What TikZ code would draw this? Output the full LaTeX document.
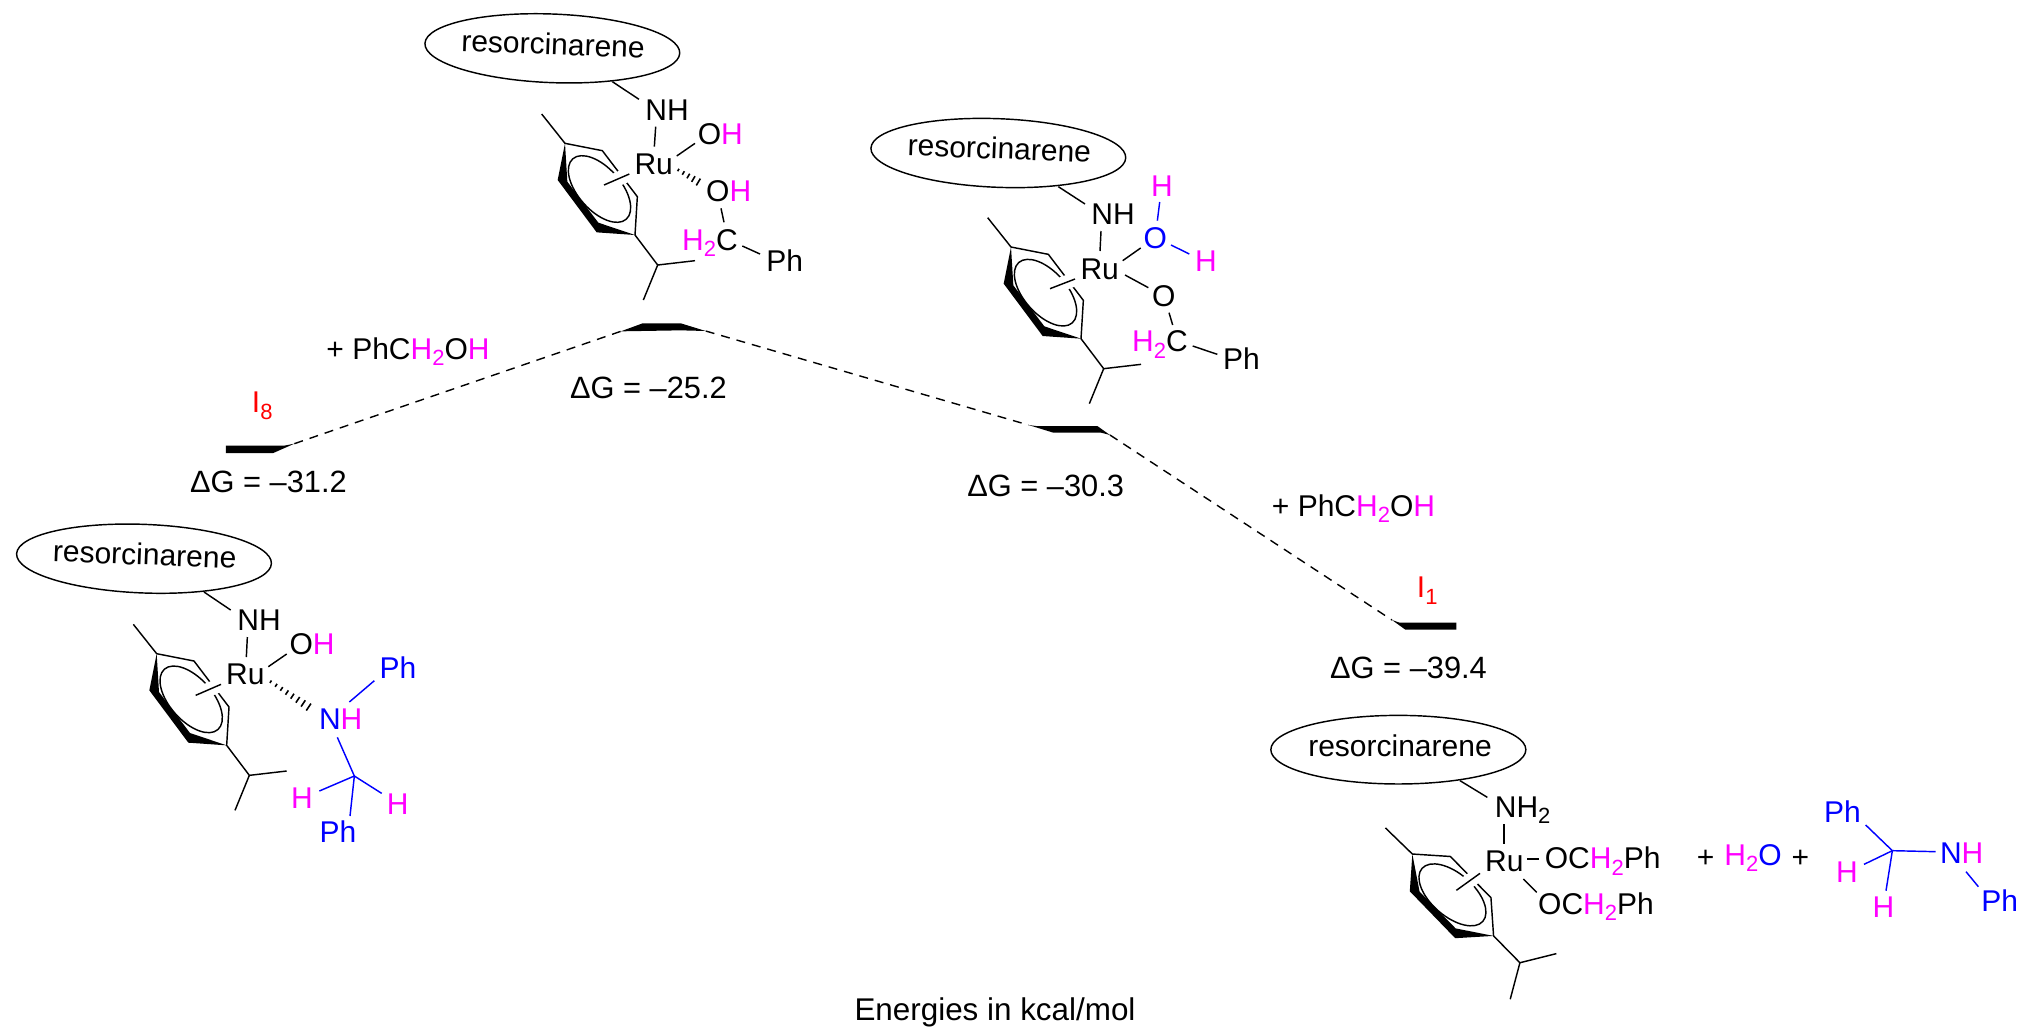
\documentclass[tikz,border=0pt]{standalone}
\usepackage{fontspec}
\setmainfont{Liberation Sans}
\usetikzlibrary{calc,shapes.geometric}
\definecolor{mg}{HTML}{FF00FF}
\definecolor{bl}{HTML}{0000FF}
\definecolor{rd}{HTML}{FF0000}
\newcommand\mg[1]{\textcolor{mg}{#1}}
\newcommand\bl[1]{\textcolor{bl}{#1}}
\newcommand\sbs[1]{\raisebox{-3.3pt}{\fontsize{11}{12}\selectfont #1}}
\tikzset{
  zm/.style={x=.166667pt,y=-.166667pt},
  zl/.style={x=.19133pt,y=-.166667pt},
  atom/.style={anchor=base,inner sep=0pt,font=\fontsize{15}{18}\selectfont},
  level/.style={anchor=base,inner sep=0pt,font=\fontsize{15.4}{18}\selectfont},
  bondline/.style={line width=.72pt,line cap=butt,line join=miter},
  hashline/.style={line width=.8pt},
  halo/.style={preaction={draw=white,line width=7pt}},
  resell/.style={ellipse,draw,line width=.72pt,inner sep=0pt,minimum width=127.5pt,minimum height=34.3pt},
  dashconn/.style={line width=.7pt,dash pattern=on 4.5pt off 3.5pt},
}
\newcommand\bond[5][]{\draw[bondline,#1] ([shift={(#3)}]#2) -- ([shift={(#5)}]#4);}
\newcommand\hashbond[5]{%
  \path ([shift={(#2)}]#1) coordinate (hs) ([shift={(#4)}]#3) coordinate (he);
  \foreach \i in {0,...,#5}{%
    \pgfmathsetmacro\hh{\i/#5}%
    \pgfmathsetlengthmacro\hw{.7pt+1.6pt*\hh}%
    \draw[hashline] ($(hs)!\hh!(he)!\hw!90:(he)$) -- ($(hs)!\hh!(he)!\hw!-90:(he)$);
  }}
\newcommand\arene[4]{%
  \begin{scope}[shift={(#1,#2)},rotate around={#3:(495,430)}]
    \draw[bondline] (598.5,567) ellipse [x radius=121,y radius=64,rotate=-48.4];
    \fill (495,430) -- (473,540) -- (590,697) -- (705,705) -- (595,668) -- (502,545) -- cycle;
    \draw[bondline] (425,342) -- (495,430) -- (607,452) -- (712,590) -- (705,705) -- (773,795) -- (885,782);
    \draw[bondline] (773,795) -- (730,900);
    \coordinate (#4) at (612,555);
  \end{scope}}
\begin{document}
\begin{tikzpicture}[x=.5pt,y=-.5pt]
\useasboundingbox (0,0) rectangle (2033,1034);

% energy levels
\begin{scope}[shift={(170,300)},zl]
  \coordinate (l1r) at (325,431);
  \coordinate (l2l) at (1178,94);
  \coordinate (l2r) at (1400,93);
  \fill (146,437) -- (298,437) -- (l1r) -- (270,459) -- (146,459) -- cycle;
  \fill (l2l) -- (1235,70) -- (1335,70) -- (l2r) -- (1335,91) -- cycle;
\end{scope}
\begin{scope}[shift={(950,400)},zl]
  \coordinate (l3l) at (205,75);
  \coordinate (l3r) at (418,105);
  \coordinate (l4l) at (1155,660);
  \fill (l3l) -- (225,78) -- (385,78) -- (l3r) -- (395,98) -- (270,98) -- cycle;
  \fill (l4l) -- (1175,668) -- (1323,668) -- (1323,689) -- (1190,689) -- cycle;
\end{scope}
\draw[dashconn] (l1r) -- (l2l);
\draw[dashconn] (l2r) -- (l3l);
\draw[dashconn] (l3r) -- (l4l);

% level labels
\node[atom,rd] (i8) at (262.2,412.7) {I\sbs{8}};
\node[level] (g1) at (268.4,492.7) {ΔG = –31.2};
\node[atom] (p1) at (408,359.3) {+ PhC\mg{H\sbs{2}}O\mg{H}};
\node[level] (g2) at (648.4,398.3) {ΔG = –25.2};
\node[level] (g3) at (1045.7,496.7) {ΔG = –30.3};
\node[atom] (p2) at (1353.5,516) {+ PhC\mg{H\sbs{2}}O\mg{H}};
\node[atom,rd] (i1) at (1427.2,597.7) {I\sbs{1}};
\node[level] (g4) at (1408.5,678.3) {ΔG = –39.4};
\node[atom,font=\fontsize{15.7}{18}\selectfont] (cap) at (995,1020) {Energies in kcal/mol};

% complex A (top centre)
\begin{scope}[shift={(400,0)},zm]
  \arene{0}{0}{0}{aCp}
  \node[resell,rotate=-2.2] (aE) at (457,145) {};
  \node[atom,rotate=-2.2] (aT) at (458,164) {resorcinarene};
  \node[atom] (aNH) at (801,360) {NH};
  \node[atom] (aRu) at (761,523) {Ru};
  \node[atom] (aOH) at (961,432) {O\mg{H}};
  \node[atom] (aOb) at (986,603) {O\mg{H}};
  \node[atom] (aC) at (930,750) {\mg{H\sbs{2}}C};
  \node[atom] (aPh) at (1154,815) {Ph};
  \bond{aE.center}{180,100}{aNH.base}{-84,-62}
  \bond{aNH.base}{-34,20}{aRu.base}{2,-83}
  \bond{aRu.base}{69,-55}{aOH.base}{-76,-2}
  \hashbond{aRu.base}{74,-13}{aOb.base}{-76,-48}{5}
  \bond{aOb.base}{-23,22}{aC.base}{42,-83}
  \bond{aC.base}{97,-12}{aPh.base}{-74,-53}
  \bond[halo]{aCp}{0,0}{aRu.base}{-73,-1}
\end{scope}

% complex B (left)
\begin{scope}[shift={(0,520)},zm]
  \arene{-25}{-29}{0}{bCp}
  \node[resell,rotate=-2.2] (bE) at (432,116) {};
  \node[atom,rotate=-2.2] (bT) at (433,135) {resorcinarene};
  \node[atom] (bNH) at (777,332) {NH};
  \node[atom] (bRu) at (736,494) {Ru};
  \node[atom] (bOH) at (936,403) {O\mg{H}};
  \node[atom] (bN) at (1022,628) {\bl{N}\mg{H}};
  \node[atom,bl] (bPa) at (1194,476) {Ph};
  \coordinate (bC) at (1063,768);
  \node[atom,mg] (bHl) at (906,866) {H};
  \node[atom,mg] (bHr) at (1193,882) {H};
  \node[atom,bl] (bPb) at (1014,968) {Ph};
  \bond{bE.center}{180,100}{bNH.base}{-85,-62}
  \bond{bNH.base}{-35,19}{bRu.base}{3,-83}
  \bond{bRu.base}{69,-54}{bOH.base}{-76,-1}
  \hashbond{bRu.base}{76,-9}{bN.base}{-80,-56}{8}
  \bond[bl]{bN.base}{26,-82}{bPa.base}{-71,6}
  \bond[bl]{bN.base}{-10,24}{bC}{0,0}
  \bond[bl]{bC}{0,0}{bHl.base}{52,-53}
  \bond[bl]{bC}{0,0}{bHr.base}{-48,-62}
  \bond[bl]{bC}{0,0}{bPb.base}{36,-80}
  \bond[halo]{bCp}{0,0}{bRu.base}{-73,-1}
\end{scope}

% complex C (middle right)
\begin{scope}[shift={(850,100)},zm]
  \arene{-12}{11}{0}{cCp}
  \node[resell,rotate=-2.2] (cE) at (445,159) {};
  \node[atom,rotate=-2.2] (cT) at (447,177) {resorcinarene};
  \node[atom] (cNH) at (789,373) {NH};
  \node[atom] (cRu) at (749,537) {Ru};
  \node[atom,bl] (cOw) at (916,445) {O};
  \node[atom,mg] (cHt) at (936,290) {H};
  \node[atom,mg] (cHr) at (1068,514) {H};
  \node[atom] (cO) at (941,618) {O};
  \node[atom] (cC) at (930,755) {\mg{H\sbs{2}}C};
  \node[atom] (cPh) at (1174,808) {Ph};
  \bond{cE.center}{180,101}{cNH.base}{-84,-61}
  \bond{cNH.base}{-36,20}{cRu.base}{1,-84}
  \bond{cRu.base}{69,-55}{cOw.base}{-44,-1}
  \bond[bl]{cOw.base}{6,-83}{cHt.base}{-7,16}
  \bond[bl]{cOw.base}{47,-10}{cHr.base}{-50,-52}
  \bond{cRu.base}{76,-12}{cO.base}{-46,-55}
  \bond{cO.base}{16,20}{cC.base}{38,-80}
  \bond{cC.base}{98,-17}{cPh.base}{-72,-45}
  \bond[halo]{cCp}{0,0}{cRu.base}{-74,0}
\end{scope}

% complex D (bottom right)
\begin{scope}[shift={(1240,710)},zm]
  \arene{22}{2}{7.4}{dCp}
  \node[resell] (dE) at (475,119) {};
  \node[atom] (dT) at (480,138) {resorcinarene};
  \node[atom] (dNH) at (848,322) {NH\sbs{2}};
  \node[atom] (dRu) at (793,485) {Ru};
  \node[atom] (dOa) at (1088,476) {OC\mg{H\sbs{2}}Ph};
  \node[atom] (dOb) at (1068,612) {OC\mg{H\sbs{2}}Ph};
  \bond{dE.center}{185,93}{dNH.base}{-106,-60}
  \bond{dNH.base}{-56,20}{dRu.base}{-1,-83}
  \bond{dRu.base}{69,-38}{dOa.base}{-190,-29}
  \bond{dRu.base}{57,22}{dOb.base}{-178,-65}
  \bond[halo]{dCp}{0,0}{dRu.base}{-73,5}
\end{scope}

% free species
\begin{scope}[shift={(1660,770)},zm]
  \node[atom] (ePa) at (137,293) {+};
  \node[atom] (eW) at (279,285) {\mg{H\sbs{2}}\bl{O}};
  \node[atom] (ePb) at (421,293) {+};
  \coordinate (eC) at (697,242);
  \node[atom,bl] (ePh) at (547,158) {Ph};
  \node[atom,mg] (eHl) at (561,338) {H};
  \node[atom,mg] (eHb) at (670,443) {H};
  \node[atom] (eN) at (905,280) {\bl{N}\mg{H}};
  \node[atom,bl] (ePr) at (1019,425) {Ph};
  \bond[bl]{eC}{0,0}{ePh.base}{70,7}
  \bond[bl]{eC}{0,0}{eHl.base}{51,-55}
  \bond[bl]{eC}{0,0}{eHb.base}{8,-81}
  \bond[bl]{eC}{0,0}{eN.base}{-78,-35}
  \bond[bl]{eN.base}{13,25}{ePr.base}{-64,-75}
\end{scope}
\end{tikzpicture}
\end{document}
